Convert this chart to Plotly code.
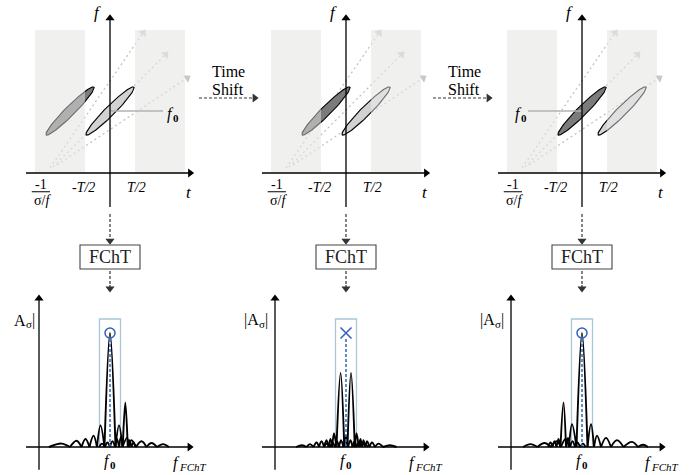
import numpy as np
import plotly.graph_objects as go

W, H = 699, 475
SERIF = "Liberation Serif"

# ---------------- data ----------------
# time-frequency planes (t in units of T/2)
band_left = [-3.0, -1.0]
band_right = [1.0, 3.0]
band_top = 5.72
ellipse_A_t = [-1.6, -0.8, 0.0]      # darker chirp component
ellipse_B_t = [0.0, 0.8, 1.6]        # lighter chirp component
ellipse_f = 2.48
ellipse_half_len = 1.35
ellipse_half_wid = 0.19
f0_line_t = [[0.0, 2.12], None, [-2.16, 0.0]]
f0_label_t = [2.5, None, -2.44]
chirp_start_t = [-2.4, -2.28, -2.12]
chirp_start_f = [0.2, 0.24, 0.32]
chirp_end_t = [1.4, 2.32, 3.2]
chirp_end_f = [5.72, 4.84, 3.88]
tick_labels = ["<i>-T/2</i>", "<i>T/2</i>"]
tick_pos = [-1.06, 1.06]

# FChT spectra (alternating zero / lobe-peak samples), f relative to f0
p1_main_x = [-12.2, -9.7, -8.0, -6.7, -5.7, -4.9, -4.1, -3.3, -2.6, -1.9, -1.1, 0.0, 1.1,
             1.8, 2.5, 3.4, 3.8, 4.3, 5.2, 6.3, 7.3, 8.3, 9.4, 10.6, 11.8]
p1_main_y = [0, 0.03, 0, 0.055, 0, 0.07, 0, 0.10, 0, 0.19, 0, 1.0, 0,
             0.19, 0, 0.08, 0, 0.06, 0, 0.05, 0, 0.035, 0, 0.025, 0]
p1_side_x = [-2.2, -1.6, -1.0, -0.5, 0.0, 0.5, 1.0, 1.4, 1.8, 2.2, 2.55, 3.06, 3.55, 3.9, 4.3, 4.7, 5.1]
p1_side_y = [0, 0.03, 0, 0.04, 0, 0.05, 0, 0.07, 0, 0.09, 0, 0.39, 0, 0.06, 0, 0.04, 0]

p2_left_x = [-10.0, -8.8, -7.9, -7.2, -6.5, -5.9, -5.4, -4.9, -4.4, -3.9, -3.5, -3.1, -2.75, -2.4,
             -1.9, -1.08, -0.35, 0.0, 0.4, 0.9, 1.3, 1.7, 2.1, 2.6, 3.1, 3.7, 4.4]
p2_left_y = [0, 0.015, 0, 0.025, 0, 0.04, 0, 0.05, 0, 0.06, 0, 0.07, 0, 0.12,
             0, 0.65, 0, 0.10, 0, 0.06, 0, 0.05, 0, 0.04, 0, 0.03, 0]
p2_right_x = [-4.4, -3.8, -3.2, -2.7, -2.2, -1.8, -1.4, -1.0, -0.5, -0.1, 0.3, 1.0, 1.75, 2.1,
              2.55, 2.9, 3.2, 3.5, 3.85, 4.2, 4.7, 5.2, 5.8, 6.5, 7.4, 8.8, 10.1]
p2_right_y = [0, 0.03, 0, 0.04, 0, 0.05, 0, 0.06, 0, 0.09, 0, 0.65, 0, 0.12,
              0, 0.07, 0, 0.06, 0, 0.05, 0, 0.04, 0, 0.03, 0, 0.015, 0]

p3_main_x = [-11.8, -10.3, -8.9, -7.5, -6.2, -5.1, -4.2, -3.3, -2.6, -2.0, -1.1, 0.0, 1.1,
             1.8, 2.4, 3.0, 3.8, 4.8, 5.8, 7.0, 8.3, 10.0, 11.2, 12.2, 13.2]
p3_main_y = [0, 0.025, 0, 0.035, 0, 0.05, 0, 0.07, 0, 0.2, 0, 1.0, 0,
             0.2, 0, 0.1, 0, 0.08, 0, 0.06, 0, 0.045, 0, 0.02, 0]
p3_side_x = [-6.8, -6.3, -5.9, -5.5, -5.1, -4.7, -4.3, -3.7, -3.2, -2.8, -2.4, -1.9, -1.4, -0.9, -0.4, 0.2, 0.7]
p3_side_y = [0, 0.04, 0, 0.05, 0, 0.07, 0, 0.39, 0, 0.08, 0, 0.05, 0, 0.04, 0, 0.03, 0]

spectra = [[(p1_main_x, p1_main_y), (p1_side_x, p1_side_y)],
           [(p2_left_x, p2_left_y), (p2_right_x, p2_right_y)],
           [(p3_main_x, p3_main_y), (p3_side_x, p3_side_y)]]
peak_marker = ["circle-open", "x-thin-open", "circle-open"]
amp_left_bar = [False, True, True]     # "A_σ|" vs "|A_σ|"
amp_label_x = [-16.8, -17.4, -17.4]

# ---------------- layout helpers ----------------
axis_px = [110, 346, 582]
def px_x(v): return v / W
def px_y(v): return 1 - v / H

TOP_S = 25.0                 # px per unit (both directions) in t-f planes
BOT_SX, BOT_SY = 5.0, 114.0  # px per unit in spectrum panels

BAND = "#f0f1ef"
DARK = "#333333"
fig = go.Figure()
shapes, annots = [], []
layout_axes = {}

def lobes(xs, ys):
    X, Y = [], []
    for i in range(0, len(xs) - 2, 2):
        X += [xs[i], xs[i + 1], xs[i + 2], None]
        Y += [ys[i], ys[i + 1], ys[i + 2], None]
    return X, Y

def head(xr, yr, tx, ty, dx, dy, sx, sy, color="black", size=8):
    """arrowhead marker whose tip sits at (tx, ty); (dx, dy) = screen direction (dy up)."""
    L = np.hypot(dx, dy)
    ux, uy = dx / L, dy / L
    back = size * 0.42
    cx, cy = tx - ux * back / sx, ty - uy * back / sy
    ang = float(np.degrees(np.arctan2(ux, uy)))
    fig.add_trace(go.Scatter(x=[cx], y=[cy], mode="markers", xaxis=xr, yaxis=yr,
                             cliponaxis=False, hoverinfo="skip",
                             marker=dict(symbol="triangle-up", size=size, angle=ang,
                                         color=color, line=dict(width=0))))
    return cx, cy

def line(xr, yr, x0, y0, x1, y1, color="black", width=1.3, dash=None, layer="above"):
    d = dict(color=color, width=width)
    if dash:
        d["dash"] = dash
    shapes.append(dict(type="line", xref=xr, yref=yr, x0=x0, y0=y0, x1=x1, y1=y1,
                       layer=layer, line=d))

def text(xr, yr, x, y, s, size=14, color="black", xanchor="center", xshift=0, yshift=0):
    annots.append(dict(xref=xr, yref=yr, x=x, y=y, text=s, showarrow=False,
                       xanchor=xanchor, yanchor="middle", xshift=xshift, yshift=yshift,
                       borderpad=0, borderwidth=0,
                       font=dict(family=SERIF, size=size, color=color)))

def f_sub(xr, yr, x, y, sub, sub_italic=False, sub_bold=True, shift=0):
    """italic f followed by a lowered subscript (kept as two real text labels)."""
    text(xr, yr, x, y, "<i>f</i>", size=16, xanchor="right", xshift=shift + 1)
    s = sub
    if sub_italic:
        s = f"<i>{s}</i>"
    if sub_bold:
        s = f"<b>{s}</b>"
    text(xr, yr, x, y, s, size=11, xanchor="left", xshift=shift, yshift=-4)

top_refs = []
for i in range(3):
    # ---------- top t-f plane ----------
    n = i + 1
    xr, yr = ("x" if n == 1 else f"x{n}"), ("y" if n == 1 else f"y{n}")
    top_refs.append((xr, yr))
    layout_axes["xaxis" + ("" if n == 1 else str(n))] = dict(
        domain=[px_x(axis_px[i] - 100), px_x(axis_px[i] + 100)], range=[-4.0, 4.0],
        visible=False, fixedrange=True, anchor=yr)
    layout_axes["yaxis" + ("" if n == 1 else str(n))] = dict(
        domain=[px_y(250), px_y(5)], range=[-3.08, 6.72],
        visible=False, fixedrange=True, anchor=xr)

    for b in (band_left, band_right):
        shapes.append(dict(type="rect", xref=xr, yref=yr, x0=b[0], x1=b[1], y0=0, y1=band_top,
                           fillcolor=BAND, line=dict(width=0), layer="below"))
    # dotted chirp directions (behind the ellipses)
    for k in range(3):
        dx = chirp_end_t[k] - chirp_start_t[k]
        dy = chirp_end_f[k] - chirp_start_f[k]
        cx, cy = head(xr, yr, chirp_end_t[k], chirp_end_f[k], dx, dy, TOP_S, TOP_S,
                      color="#c8c8c8", size=8)
        line(xr, yr, chirp_start_t[k], chirp_start_f[k], cx, cy, color="#c2c2c2",
             width=1.3, dash="2px,3px", layer="below")

    th = np.linspace(0, 2 * np.pi, 120)
    c, s = np.cos(np.pi / 4), np.sin(np.pi / 4)
    for tc, fill in ((ellipse_A_t[i], "#7b7b7b"), (ellipse_B_t[i], "#d2d2d2")):
        ex = tc + ellipse_half_len * np.cos(th) * c - ellipse_half_wid * np.sin(th) * s
        ey = ellipse_f + ellipse_half_len * np.cos(th) * s + ellipse_half_wid * np.sin(th) * c
        fig.add_trace(go.Scatter(x=ex, y=ey, mode="lines", fill="toself", fillcolor=fill,
                                 line=dict(color="black", width=1.1), xaxis=xr, yaxis=yr,
                                 hoverinfo="skip"))
    # translucent window overlay (lightens what lies inside the bands)
    for b in (band_left, band_right):
        shapes.append(dict(type="rect", xref=xr, yref=yr, x0=b[0], x1=b[1], y0=0, y1=band_top,
                           fillcolor=BAND, opacity=0.45, line=dict(width=0), layer="above"))
    if f0_line_t[i] is not None:
        line(xr, yr, f0_line_t[i][0], ellipse_f, f0_line_t[i][1], ellipse_f,
             color="#b2b2b2", width=1.5)
        f_sub(xr, yr, f0_label_t[i], ellipse_f - 0.1, "0")
    # axes with arrowheads
    cx, cy = head(xr, yr, 3.34, 0, 1, 0, TOP_S, TOP_S)
    line(xr, yr, -3.36, 0, cx, 0)
    cx, cy = head(xr, yr, 0, 6.32, 0, 1, TOP_S, TOP_S)
    line(xr, yr, 0, -1.36, 0, cy)
    text(xr, yr, -0.52, 6.44, "<i>f</i>", size=17)
    text(xr, yr, 3.16, -0.76, "<i>t</i>", size=17)
    for lab, p in zip(tick_labels, tick_pos):
        text(xr, yr, p, -0.56, lab, size=14)
    text(xr, yr, -2.76, -0.47, "-1", size=14)
    line(xr, yr, -3.13, -0.75, -2.4, -0.75, width=1)
    text(xr, yr, -2.72, -1.08, "σ/<i>f</i>", size=14)

    # ---------- connector + FChT box ----------
    cx, cy = head(xr, yr, 0, -2.84, 0, -1, TOP_S, TOP_S, color=DARK, size=8)
    line(xr, yr, 0, -1.64, 0, cy, color=DARK, width=1.2, dash="3px,2px")
    shapes.append(dict(type="rect", xref=xr, yref="paper", x0=-1.2, x1=1.2, y0=px_y(269), y1=px_y(245),
                       line=dict(color="#444444", width=1.1), fillcolor="white"))
    text(xr, "paper", 0, px_y(257), "FChT", size=18, color="#222222")

    # ---------- bottom spectrum ----------
    m = i + 4
    xb, yb = f"x{m}", f"y{m}"
    layout_axes[f"xaxis{m}"] = dict(domain=[px_x(axis_px[i] - 90), px_x(axis_px[i] + 90)],
                                    range=[-18, 18], visible=False, fixedrange=True, anchor=yb)
    layout_axes[f"yaxis{m}"] = dict(domain=[0, px_y(285)], range=[-0.2456, 1.4211],
                                    visible=False, fixedrange=True, anchor=xb)
    # connector from FChT box down into the spectrum panel
    cx, cy = head(xb, yb, 0, 1.36, 0, -1, BOT_SX, BOT_SY, color=DARK, size=8)
    shapes.append(dict(type="line", xref=xb, yref="paper", x0=0, x1=0, y0=px_y(271), y1=px_y(285),
                       line=dict(color=DARK, width=1.2, dash="3px,2px")))
    line(xb, yb, 0, 1.421, 0, cy, color=DARK, width=1.2, dash="3px,2px")

    shapes.append(dict(type="rect", xref=xb, yref=yb, x0=-2.1, x1=2.1, y0=0, y1=1.123,
                       line=dict(color="#a9c6d8", width=1.3), layer="below"))
    for (sx, sy) in spectra[i]:
        X, Y = lobes(sx, sy)
        fig.add_trace(go.Scatter(x=X, y=Y, mode="lines", line=dict(color="black", width=1.9,
                                 shape="spline", smoothing=1.0), connectgaps=False,
                                 xaxis=xb, yaxis=yb, hoverinfo="skip"))
    line(xb, yb, 0, 0, 0, 0.955, color="#3c6ec6", width=1.6, dash="3px,2px")
    fig.add_trace(go.Scatter(x=[0], y=[1.0], mode="markers", xaxis=xb, yaxis=yb, hoverinfo="skip",
                             marker=dict(symbol=peak_marker[i], size=10 if i != 1 else 11,
                                         color="#2f5fbf", line=dict(width=1.5, color="#2f5fbf"))))
    cx, cy = head(xb, yb, 16.6, 0, 1, 0, BOT_SX, BOT_SY)
    line(xb, yb, -16.8, 0, cx, 0)
    cx, cy = head(xb, yb, -14.2, 1.333, 0, 1, BOT_SX, BOT_SY)
    line(xb, yb, -14.2, -0.2, -14.2, cy)
    # amplitude label  |A_σ|
    ax_ = amp_label_x[i]
    text(xb, yb, ax_, 1.11, "|A" if amp_left_bar[i] else "A", size=16, xanchor="right", xshift=0)
    text(xb, yb, ax_, 1.11, "σ", size=11, xanchor="left", xshift=0, yshift=-4)
    text(xb, yb, ax_, 1.11, "|", size=16, xanchor="left", xshift=6)
    # frequency labels
    f_sub(xb, yb, 0, -0.12, "0")
    f_sub(xb, yb, 15.8, -0.14, "FChT", sub_italic=True, sub_bold=False, shift=-10)

# ---------- Time Shift arrows (heads drawn in the next panel's t-f axes) ----------
for j, (cx_txt, x0, x1) in enumerate(((228, 199, 258), (464, 433, 492))):
    text("paper", "paper", px_x(cx_txt), px_y(72), "Time", size=16)
    text("paper", "paper", px_x(cx_txt), px_y(89), "Shift", size=16)
    xr, yr = top_refs[j + 1]
    tip_t = (x1 - axis_px[j + 1]) / TOP_S
    tip_f = (173 - 98) / TOP_S
    hx, hy = head(xr, yr, tip_t, tip_f, 1, 0, TOP_S, TOP_S, color=DARK, size=8)
    shapes.append(dict(type="line", xref="paper", yref="paper", x0=px_x(x0),
                       x1=px_x(axis_px[j + 1] + hx * TOP_S), y0=px_y(98), y1=px_y(98),
                       line=dict(color=DARK, width=1.2, dash="3px,2px")))

fig.update_layout(width=W, height=H, margin=dict(l=0, r=0, t=0, b=0),
                  font=dict(family=SERIF),
                  paper_bgcolor="white", plot_bgcolor="rgba(0,0,0,0)", showlegend=False,
                  shapes=shapes, annotations=annots, **layout_axes)
fig.write_html("out.html", config={"displayModeBar": False},
               post_script="document.body.style.margin='0px';")
